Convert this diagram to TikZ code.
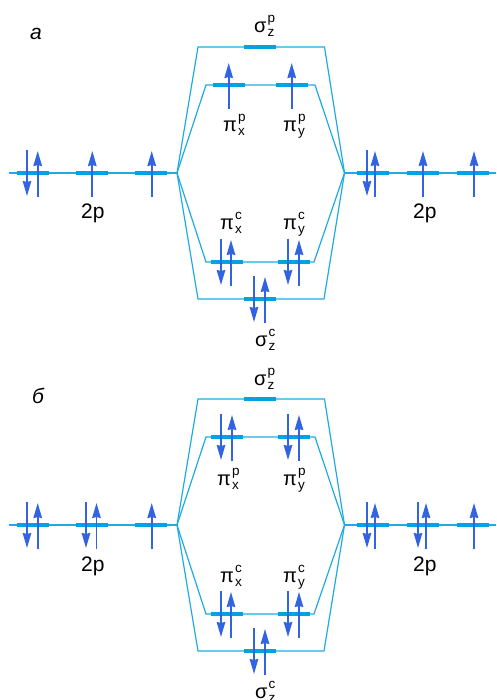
\documentclass[tikz,border=0pt]{standalone}
\usepackage{fontspec}
\setmainfont{Liberation Sans}
\usetikzlibrary{calc,arrows.meta}
\definecolor{orbLine}{RGB}{30,170,228}
\definecolor{orbBar}{RGB}{0,163,225}
\definecolor{spinBlue}{RGB}{50,100,225}
\newcommand{\orblab}[3]{#1\kern1pt\rlap{\raisebox{10pt}{\fontsize{13.5}{13.5}\selectfont #2}}\raisebox{-4pt}{\fontsize{13.5}{13.5}\selectfont #3}}
\newcommand{\spinup}[2]{\draw[spin] ($(#1)+(#2,24)$) -- ($(#1)+(#2,-22)$);}
\newcommand{\spindown}[2]{\draw[spin] ($(#1)+(#2,-23)$) -- ($(#1)+(#2,23)$);}

\begin{document}
\begin{tikzpicture}[x=1pt,y=-1pt,>={Stealth[length=15pt,width=8.5pt,inset=1pt]},
  orbline/.style={orbLine, line width=1.2pt},
  level/.style={fill=orbBar, inner sep=0pt, minimum width=32pt, minimum height=4pt},
  spin/.style={->, spinBlue, line width=1.8pt},
  lab/.style={anchor=base west, inner sep=0pt, font=\fontsize{20}{22}\selectfont},
  twop/.style={lab, font=\fontsize{21}{22}\selectfont},
  panelcap/.style={lab, font=\fontsize{21}{22}\selectfont\itshape}]
  \useasboundingbox (0,0) rectangle (496,700);
  % the same skeleton twice
  \foreach \pre/\dy/\px/\py in {a/0/228.5/291.5,b/352/226.5/294}{
    \begin{scope}[shift={(0,\dy)},name prefix=\pre-]
      \coordinate (endL) at (9,173);
      \coordinate (hubL) at (177,173);
      \coordinate (hubR) at (344.5,173);
      \coordinate (endR) at (496,173);
      \coordinate (sasL) at (198,47);
      \coordinate (sasR) at (324.5,47);
      \coordinate (pasL) at (206,85);
      \coordinate (pasR) at (315,85);
      \coordinate (pbL) at (206,262);
      \coordinate (pbR) at (314,262);
      \coordinate (sbL) at (198,299);
      \coordinate (sbR) at (324,299);
      \draw[orbline] (endL) -- (hubL);
      \draw[orbline] (hubR) -- (endR);
      \draw[orbline] (hubL) -- (sasL) -- (sasR) -- (hubR);
      \draw[orbline] (hubL) -- (pasL) -- (pasR) -- (hubR);
      \draw[orbline] (hubL) -- (pbL) -- (pbR) -- (hubR);
      \draw[orbline] (hubL) -- (sbL) -- (sbR) -- (hubR);
      \node[level] (l1) at (33,173) {};
      \node[level] (l2) at (92,173) {};
      \node[level] (l3) at (151,173) {};
      \node[level] (r1) at (373,173) {};
      \node[level] (r2) at (423,173) {};
      \node[level] (r3) at (473,173) {};
      \node[level] (sigP) at (260,47) {};
      \node[level] (piPx) at (\px,85) {};
      \node[level] (piPy) at (\py,85) {};
      \node[level] (piCx) at (226.5,262) {};
      \node[level] (piCy) at (294,262) {};
      \node[level] (sigC) at (260,299) {};
      \node[twop] (twoL) at (81,219) {2p};
      \node[twop] (twoR) at (413,219) {2p};
      \node[lab] (labSigP) at (254,33) {\orblab{σ}{p}{z}};
      \node[lab] (labPiCx) at (220,230) {\orblab{π}{c}{x}};
      \node[lab] (labPiCy) at (283,230) {\orblab{π}{c}{y}};
      \node[lab] (labSigC) at (255,346.5) {\orblab{σ}{c}{z}};
      % bonding electrons are the same in both
      \spindown{piCx}{-5.5}
      \spinup{piCx}{4.5}
      \spindown{piCy}{-6}
      \spinup{piCy}{5}
      \spindown{sigC}{-6}
      \spinup{sigC}{5}
      \spindown{l1}{-6}
      \spinup{l1}{4.7}
      \spinup{l3}{0.7}
      \spindown{r1}{-6}
      \spinup{r1}{2}
    \end{scope}
  }
  % panel a
  \node[panelcap] (capA) at (30,40) {а};
  \node[lab] (labPiPxA) at (223,132) {\orblab{π}{p}{x}};
  \node[lab] (labPiPyA) at (283,132) {\orblab{π}{p}{y}};
  \spinup{a-piPx}{0.2}
  \spinup{a-piPy}{0.2}
  \spinup{a-l2}{0.3}
  \spinup{a-r2}{0}
  \spinup{a-r3}{1}
  % panel b
  \node[panelcap] (capB) at (32,403) {б};
  \node[lab] (labPiPxB) at (217,485) {\orblab{π}{p}{x}};
  \node[lab] (labPiPyB) at (283,485) {\orblab{π}{p}{y}};
  \spindown{b-piPx}{-5.5}
  \spinup{b-piPx}{5.5}
  \spindown{b-piPy}{-6}
  \spinup{b-piPy}{5}
  \spindown{b-l2}{-6}
  \spinup{b-l2}{4.5}
  \spindown{b-r2}{-5}
  \spinup{b-r2}{3}
  \spinup{b-r3}{1}
\end{tikzpicture}
\end{document}
